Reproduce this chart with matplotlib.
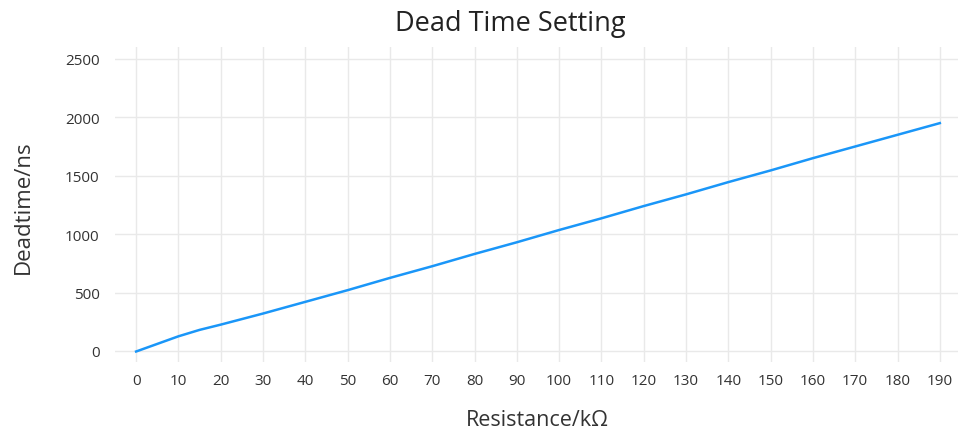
import matplotlib
matplotlib.use("Agg")
import matplotlib.pyplot as plt

plt.rcParams["font.family"] = ["Open Sans", "DejaVu Sans"]

# values
resistance = [0, 5, 10, 15, 20, 30, 40, 50, 60, 70, 80, 90, 100,
              110, 120, 130, 140, 150, 160, 170, 180, 190]
deadtime = [-5, 60, 125, 180, 225, 320, 420, 520, 625, 725, 830, 930, 1035,
            1135, 1240, 1340, 1445, 1545, 1650, 1750, 1850, 1950]
x_ticks = list(range(0, 191, 10))
y_ticks = [0, 500, 1000, 1500, 2000, 2500]

fig = plt.figure(figsize=(9.58, 4.31), dpi=100)
ax = fig.add_axes([0.12, 0.158, 0.88, 0.731])

ax.plot(resistance, deadtime, color="#1a96f8", linewidth=1.8, zorder=3)

ax.set_xlim(-5, 194.3)
ax.set_ylim(-94, 2603)
ax.set_xticks(x_ticks)
ax.set_yticks(y_ticks)
ax.grid(True, color="#e9e9e9", linewidth=1)
ax.set_axisbelow(True)
for s in ax.spines.values():
    s.set_visible(False)
ax.tick_params(length=0, labelsize=11, colors="#333333")
ax.tick_params(axis="y", pad=11)
ax.tick_params(axis="x", pad=8)

fig.text(0.533, 0.945, "Dead Time Setting", ha="center", va="center",
         fontsize=19.5, color="#222222")
fig.text(0.561, 0.025, "Resistance/kΩ", ha="center", va="center",
         fontsize=15.5, color="#333333")
fig.text(0.024, 0.52, "Deadtime/ns", ha="center", va="center",
         rotation=90, fontsize=16, color="#333333")

fig.savefig("out.png", dpi=100)
